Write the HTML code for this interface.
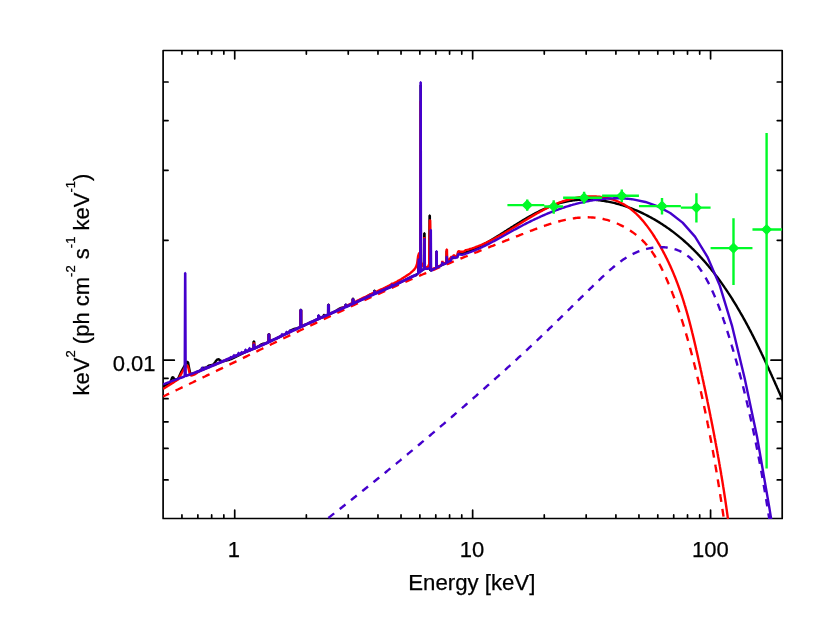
<!DOCTYPE html>
<html lang="en">
<head>
<meta charset="utf-8">
<title>Spectrum</title>
<style>
html,body{margin:0;padding:0;background:#ffffff;}
body{width:830px;height:622px;overflow:hidden;font-family:"Liberation Sans",sans-serif;}
svg{display:block;will-change:transform;}
</style>
</head>
<body>
<svg width="830" height="622" viewBox="0 0 830 622">
<rect x="0" y="0" width="830" height="622" fill="#ffffff"/>
<defs><clipPath id="pc"><rect x="163.1" y="50.5" width="619.10" height="468.50"/></clipPath></defs>
<path d="M163.1,50.5 H782.2 V518.5 H163.1 Z M181.94,518.5 v-3.6 M181.94,50.5 v3.6 M197.87,518.5 v-3.6 M197.87,50.5 v3.6 M211.67,518.5 v-3.6 M211.67,50.5 v3.6 M223.84,518.5 v-3.6 M223.84,50.5 v3.6 M234.72,518.5 v-8.3 M234.72,50.5 v8.3 M306.35,518.5 v-3.6 M306.35,50.5 v3.6 M348.24,518.5 v-3.6 M348.24,50.5 v3.6 M377.97,518.5 v-3.6 M377.97,50.5 v3.6 M401.03,518.5 v-3.6 M401.03,50.5 v3.6 M419.87,518.5 v-3.6 M419.87,50.5 v3.6 M435.79,518.5 v-3.6 M435.79,50.5 v3.6 M449.59,518.5 v-3.6 M449.59,50.5 v3.6 M461.76,518.5 v-3.6 M461.76,50.5 v3.6 M472.65,518.5 v-8.3 M472.65,50.5 v8.3 M544.27,518.5 v-3.6 M544.27,50.5 v3.6 M586.17,518.5 v-3.6 M586.17,50.5 v3.6 M615.90,518.5 v-3.6 M615.90,50.5 v3.6 M638.95,518.5 v-3.6 M638.95,50.5 v3.6 M657.79,518.5 v-3.6 M657.79,50.5 v3.6 M673.72,518.5 v-3.6 M673.72,50.5 v3.6 M687.52,518.5 v-3.6 M687.52,50.5 v3.6 M699.69,518.5 v-3.6 M699.69,50.5 v3.6 M710.58,518.5 v-8.3 M710.58,50.5 v8.3 M163.1,479.94 h4.95 M782.2,479.94 h-4.95 M163.1,448.43 h4.95 M782.2,448.43 h-4.95 M163.1,421.79 h4.95 M782.2,421.79 h-4.95 M163.1,398.71 h4.95 M782.2,398.71 h-4.95 M163.1,378.36 h4.95 M782.2,378.36 h-4.95 M163.1,360.15 h11.2 M782.2,360.15 h-11.2 M163.1,240.36 h4.95 M782.2,240.36 h-4.95 M163.1,170.29 h4.95 M782.2,170.29 h-4.95 M163.1,120.57 h4.95 M782.2,120.57 h-4.95 M163.1,82.01 h4.95 M782.2,82.01 h-4.95" fill="none" stroke="#000" stroke-width="1.7" stroke-linecap="round" stroke-linejoin="round"/>
<g clip-path="url(#pc)" fill="none" stroke-linejoin="bevel" stroke-linecap="butt">
<path d="M163.10,386.79 L164.10,386.23 L165.10,385.67 L166.10,385.11 L167.10,384.55 L168.10,384.00 L169.10,383.41 L170.10,382.54 L171.10,380.51 L172.10,377.62 L173.10,377.06 L174.10,378.84 L175.10,379.75 L176.10,379.53 L177.10,379.19 L178.10,378.64 L179.10,376.40 L180.10,374.16 L181.10,371.97 L182.10,370.17 L183.10,368.36 L184.10,366.57 L185.10,364.80 L186.10,363.03 L187.10,361.45 L188.10,362.54 L189.10,367.92 L190.10,373.01 L191.10,374.43 L192.10,373.67 L193.10,373.31 L194.10,372.94 L195.10,372.58 L196.10,372.21 L197.10,371.84 L198.10,371.47 L199.10,371.05 L200.10,370.49 L201.10,369.61 L202.10,368.58 L203.10,367.90 L204.10,367.81 L205.10,367.87 L206.10,367.57 L207.10,366.88 L208.10,366.10 L209.10,365.54 L210.10,365.31 L211.10,365.25 L212.10,365.05 L213.10,364.48 L214.10,363.47 L215.10,362.11 L216.10,360.70 L217.10,359.64 L218.10,359.25 L219.10,359.52 L220.10,360.17 L221.10,360.80 L222.10,361.19 L223.10,361.28 L224.10,361.17 L225.10,360.94 L226.10,360.68 L227.10,360.39 L228.10,360.09 L229.10,359.77 L230.10,359.43 L231.10,359.06 L232.10,358.66 L233.10,358.22 L234.10,357.75 L235.10,357.25 L236.10,356.72 L237.10,356.19 L238.10,355.65 L239.10,355.11 L240.10,354.58 L241.10,354.07 L242.10,353.57 L243.10,353.09 L244.10,352.62 L245.10,352.17 L246.10,351.74 L247.10,351.31 L248.10,350.89 L249.10,350.48 L250.10,350.07 L251.10,349.66 L252.10,349.25 L253.10,348.84 L253.50,348.68 L253.55,341.57 L254.25,341.57 L254.30,348.35 L255.10,348.02 L256.10,347.59 L257.10,347.14 L258.10,346.62 L259.10,345.99 L260.10,345.27 L261.10,344.57 L262.10,344.03 L263.10,343.73 L264.10,343.56 L265.10,343.38 L266.10,343.11 L267.10,342.73 L268.10,342.30 L268.50,342.12 L268.55,334.13 L269.25,334.13 L269.30,341.75 L270.10,341.38 L271.10,340.91 L272.10,340.44 L273.10,339.97 L274.10,339.49 L275.10,339.02 L276.10,338.55 L277.10,338.07 L278.10,337.60 L279.10,337.13 L280.10,336.65 L281.10,336.17 L282.10,335.69 L283.10,335.20 L284.10,334.71 L285.10,334.19 L286.10,333.65 L287.10,333.06 L288.10,332.41 L289.10,331.72 L290.10,331.00 L291.10,330.33 L292.10,329.74 L293.10,329.29 L294.10,328.95 L295.10,328.70 L296.10,328.48 L297.10,328.22 L298.10,327.92 L299.10,327.56 L300.10,327.16 L300.40,327.03 L300.45,309.84 L301.15,309.84 L301.20,326.68 L302.10,326.28 L303.10,325.82 L304.10,325.37 L305.10,324.91 L306.10,324.45 L307.10,324.00 L308.10,323.54 L309.10,323.09 L310.10,322.64 L311.10,322.19 L312.10,321.74 L313.10,321.29 L314.10,320.84 L315.10,320.39 L316.10,319.94 L317.10,319.49 L318.10,319.05 L318.20,319.00 L318.25,315.62 L318.95,315.62 L319.00,318.65 L319.10,318.60 L320.10,318.16 L321.10,317.72 L322.10,317.28 L323.10,316.84 L323.60,316.62 L323.65,314.97 L324.35,314.97 L324.40,316.27 L325.10,315.96 L326.10,315.52 L327.10,315.08 L328.10,314.64 L328.10,314.64 L328.15,304.73 L328.85,304.73 L328.90,314.29 L329.10,314.20 L330.10,313.76 L331.10,313.32 L332.10,312.86 L333.10,312.38 L334.10,311.87 L335.10,311.31 L336.10,310.70 L337.10,310.07 L338.10,309.44 L339.10,308.86 L340.10,308.37 L341.10,307.99 L342.10,307.70 L343.10,307.46 L344.10,307.21 L345.10,306.92 L345.40,306.82 L345.45,304.59 L346.15,304.59 L346.20,306.55 L347.10,306.20 L348.10,305.79 L349.10,305.36 L350.10,304.92 L351.10,304.47 L352.10,304.02 L352.60,303.79 L352.65,298.74 L353.35,298.74 L353.40,303.43 L354.10,303.11 L355.10,302.66 L356.10,302.20 L357.10,301.75 L358.10,301.29 L359.10,300.84 L360.10,300.38 L361.10,299.91 L362.10,299.43 L363.10,298.93 L364.10,298.39 L365.10,297.79 L366.10,297.14 L367.10,296.45 L368.10,295.77 L369.10,295.16 L370.10,294.66 L371.10,294.29 L372.10,294.02 L373.10,293.82 L374.10,293.61 L374.10,293.61 L374.15,290.79 L374.85,290.79 L374.90,293.41 L375.10,293.36 L376.10,293.05 L377.10,292.69 L378.10,292.30 L379.10,291.88 L380.10,291.46 L381.10,291.03 L382.10,290.60 L383.10,290.16 L384.10,289.73 L385.10,289.30 L386.10,288.86 L387.10,288.42 L388.10,287.98 L389.10,287.54 L390.10,287.10 L391.10,286.65 L392.10,286.20 L393.10,285.75 L394.10,285.29 L395.10,284.83 L396.10,284.36 L397.10,283.89 L398.10,283.42 L399.10,282.94 L400.10,282.45 L401.10,281.97 L402.10,281.48 L403.10,280.98 L404.10,280.49 L405.10,280.00 L406.10,279.50 L407.10,279.01 L408.10,278.53 L409.10,278.05 L410.10,277.57 L411.10,277.11 L412.10,276.65 L413.10,276.21 L414.10,275.78 L415.10,275.36 L416.10,274.96 L416.50,274.80 L418.20,273.00 L418.70,258.00 L419.20,272.00 L420.40,272.00 L420.65,84.90 L420.90,271.00 L424.00,269.00 L424.25,233.20 L424.55,233.20 L424.80,268.00 L427.60,268.60 L429.30,267.00 L429.55,215.40 L429.85,215.40 L430.20,270.60 L436.20,268.00 L436.50,250.90 L436.80,267.20 L440.00,266.00 L446.40,263.00 L446.70,250.90 L447.00,262.00 L449.60,260.40 L451.60,257.70 L452.60,258.60 L454.00,255.90 L455.50,257.00 L457.30,257.10 L458.20,252.20 L460.00,252.70 L462.00,253.00 L464.10,252.60 L466.25,252.24 L467.26,251.88 L468.26,251.50 L469.27,251.11 L470.28,250.71 L471.29,250.29 L472.30,249.86 L473.31,249.42 L474.32,248.96 L475.33,248.50 L476.35,248.02 L477.36,247.53 L478.38,247.03 L479.40,246.52 L480.41,246.00 L481.43,245.47 L482.45,244.93 L483.47,244.39 L484.50,243.83 L485.52,243.26 L486.54,242.69 L487.57,242.11 L488.60,241.52 L489.62,240.92 L490.65,240.32 L491.68,239.71 L492.71,239.10 L493.75,238.48 L494.78,237.85 L495.81,237.22 L496.85,236.58 L497.89,235.94 L498.93,235.30 L499.97,234.65 L501.01,234.00 L502.05,233.35 L503.09,232.69 L504.14,232.03 L505.18,231.37 L506.23,230.71 L507.28,230.04 L508.33,229.38 L509.38,228.71 L510.44,228.05 L511.49,227.38 L512.55,226.71 L513.61,226.05 L514.67,225.38 L515.73,224.72 L516.79,224.06 L517.85,223.40 L518.92,222.75 L519.99,222.09 L521.05,221.44 L522.13,220.79 L523.20,220.15 L524.27,219.51 L525.35,218.88 L526.42,218.24 L527.50,217.62 L528.58,217.00 L529.66,216.39 L530.75,215.78 L531.83,215.18 L532.92,214.58 L534.01,213.99 L535.10,213.41 L536.19,212.84 L537.28,212.28 L538.38,211.72 L539.47,211.17 L540.57,210.64 L541.68,210.11 L542.78,209.59 L543.88,209.08 L544.99,208.58 L546.10,208.10 L547.21,207.62 L548.32,207.16 L549.44,206.70 L550.55,206.26 L551.67,205.83 L552.79,205.42 L553.91,205.02 L555.04,204.63 L556.16,204.26 L557.29,203.90 L558.42,203.55 L559.56,203.22 L560.69,202.90 L561.83,202.60 L562.96,202.32 L564.11,202.04 L565.25,201.79 L566.39,201.54 L567.54,201.32 L568.68,201.10 L569.83,200.90 L570.98,200.72 L572.13,200.54 L573.28,200.39 L574.44,200.24 L575.59,200.11 L576.75,200.00 L577.90,199.89 L579.06,199.80 L580.22,199.73 L581.38,199.66 L582.53,199.62 L583.69,199.58 L584.85,199.55 L586.01,199.54 L587.18,199.55 L588.34,199.56 L589.50,199.59 L590.66,199.63 L591.82,199.68 L592.98,199.75 L594.14,199.82 L595.31,199.91 L596.47,200.01 L597.63,200.13 L598.79,200.25 L599.95,200.39 L601.11,200.54 L602.27,200.70 L603.42,200.87 L604.58,201.05 L605.74,201.25 L606.89,201.45 L608.05,201.67 L609.20,201.90 L610.35,202.14 L611.50,202.39 L612.65,202.65 L613.80,202.92 L614.95,203.20 L616.10,203.50 L617.24,203.80 L618.38,204.11 L619.52,204.44 L620.66,204.77 L621.80,205.12 L622.93,205.47 L624.07,205.83 L625.20,206.21 L626.33,206.59 L627.45,206.98 L628.58,207.39 L629.70,207.80 L630.82,208.22 L631.94,208.65 L633.05,209.09 L634.16,209.54 L635.27,210.00 L636.38,210.46 L637.48,210.94 L638.58,211.42 L639.68,211.91 L640.78,212.41 L641.87,212.92 L642.95,213.44 L644.04,213.97 L645.12,214.50 L646.20,215.04 L647.27,215.59 L648.34,216.15 L649.41,216.72 L650.47,217.29 L651.53,217.87 L652.59,218.46 L653.64,219.06 L654.69,219.66 L655.73,220.27 L656.77,220.89 L657.80,221.51 L658.83,222.14 L659.86,222.78 L660.88,223.43 L661.90,224.08 L662.91,224.74 L663.92,225.40 L664.92,226.07 L665.92,226.75 L666.91,227.44 L667.90,228.13 L668.88,228.82 L669.86,229.52 L670.83,230.23 L671.80,230.95 L672.76,231.66 L673.72,232.39 L674.67,233.12 L675.62,233.86 L676.56,234.60 L677.50,235.35 L678.43,236.10 L679.35,236.86 L680.28,237.62 L681.19,238.39 L682.10,239.16 L683.01,239.94 L683.91,240.73 L684.81,241.52 L685.70,242.31 L686.59,243.11 L687.47,243.92 L688.35,244.73 L689.22,245.54 L690.09,246.36 L690.95,247.19 L691.81,248.02 L692.67,248.85 L693.52,249.69 L694.36,250.53 L695.20,251.38 L696.04,252.23 L696.87,253.09 L697.70,253.95 L698.52,254.82 L699.34,255.69 L700.15,256.57 L700.96,257.45 L701.77,258.33 L702.57,259.22 L703.36,260.11 L704.16,261.01 L704.94,261.91 L705.73,262.81 L706.51,263.72 L707.28,264.63 L708.05,265.55 L708.82,266.47 L709.59,267.39 L710.34,268.32 L711.10,269.25 L711.85,270.19 L712.60,271.13 L713.34,272.07 L714.08,273.01 L714.82,273.96 L715.55,274.92 L716.28,275.87 L717.00,276.83 L717.72,277.80 L718.44,278.76 L719.15,279.73 L719.86,280.71 L720.57,281.68 L721.27,282.66 L721.97,283.65 L722.66,284.63 L723.35,285.62 L724.04,286.61 L724.72,287.61 L725.41,288.60 L726.08,289.60 L726.76,290.61 L727.43,291.61 L728.09,292.62 L728.76,293.63 L729.42,294.64 L730.08,295.66 L730.73,296.68 L731.38,297.70 L732.03,298.72 L732.67,299.75 L733.31,300.78 L733.95,301.81 L734.59,302.84 L735.22,303.87 L735.85,304.91 L736.47,305.95 L737.09,306.99 L737.71,308.03 L738.33,309.08 L738.94,310.13 L739.55,311.17 L740.16,312.23 L740.77,313.28 L741.37,314.33 L741.97,315.39 L742.57,316.45 L743.16,317.51 L743.75,318.57 L744.34,319.63 L744.93,320.69 L745.51,321.76 L746.09,322.82 L746.67,323.89 L747.25,324.96 L747.82,326.03 L748.39,327.10 L748.96,328.18 L749.52,329.25 L750.09,330.33 L750.65,331.40 L751.21,332.48 L751.76,333.56 L752.32,334.64 L752.87,335.72 L753.42,336.80 L753.96,337.88 L754.51,338.96 L755.05,340.05 L755.59,341.13 L756.13,342.21 L756.67,343.30 L757.20,344.38 L757.73,345.47 L758.26,346.56 L758.79,347.64 L759.32,348.73 L759.84,349.82 L760.37,350.90 L760.89,351.99 L761.41,353.08 L761.92,354.17 L762.44,355.26 L762.95,356.34 L763.46,357.43 L763.97,358.52 L764.48,359.61 L764.99,360.69 L765.49,361.78 L766.00,362.87 L766.50,363.96 L767.00,365.04 L767.50,366.13 L767.99,367.22 L768.49,368.30 L768.98,369.39 L769.47,370.47 L769.97,371.55 L770.46,372.64 L770.94,373.72 L771.43,374.80 L771.92,375.88 L772.40,376.96 L772.89,378.04 L773.37,379.12 L773.85,380.20 L774.33,381.27 L774.81,382.35 L775.28,383.42 L775.76,384.50 L776.24,385.57 L776.71,386.64 L777.18,387.71 L777.66,388.78 L778.13,389.84 L778.60,390.91 L779.07,391.97 L779.54,393.03 L780.00,394.10 L780.47,395.16 L780.94,396.21 L781.40,397.27 L781.87,398.32 L782.33,399.38 L782.79,400.43 L783.26,401.48 L783.72,402.52 L784.18,403.57 L784.64,404.61 L785.10,405.65 L785.56,406.69 L785.99,407.67" stroke="#000000" stroke-width="2.4"/>
<path d="M163.10,388.98 L164.10,388.34 L165.10,387.71 L166.10,387.07 L167.10,386.43 L168.10,385.80 L169.10,385.16 L170.10,384.53 L171.10,383.89 L172.10,383.26 L173.10,382.62 L174.10,381.99 L175.10,381.35 L176.10,380.72 L177.10,380.09 L178.10,379.45 L179.10,378.10 L180.10,376.01 L181.10,374.09 L182.10,372.28 L183.10,370.48 L184.10,368.73 L185.10,367.44 L186.10,366.17 L187.10,365.32 L188.10,366.65 L189.10,371.01 L190.10,375.04 L191.10,375.54 L192.10,375.22 L193.10,374.99 L194.10,374.61 L195.10,374.08 L196.10,373.43 L197.10,372.75 L198.10,372.08 L199.10,371.48 L200.10,370.94 L201.10,370.43 L202.10,369.97 L203.10,369.53 L204.10,369.11 L205.10,368.70 L206.10,368.29 L207.10,367.88 L208.10,367.46 L209.10,367.05 L210.10,366.63 L211.10,366.22 L212.10,365.80 L213.10,365.38 L214.10,364.96 L215.10,364.54 L216.10,364.12 L217.10,363.69 L218.10,363.27 L219.10,362.85 L220.10,362.42 L221.10,362.00 L222.10,361.58 L223.10,361.15 L224.10,360.73 L225.10,360.31 L226.10,359.88 L227.10,359.46 L228.10,359.04 L229.10,358.62 L230.10,358.19 L231.10,357.78 L232.10,357.36 L233.10,356.94 L234.10,356.52 L235.10,356.11 L236.10,355.69 L237.10,355.28 L238.10,354.87 L239.10,354.47 L240.10,354.06 L241.10,353.66 L242.10,353.25 L243.10,352.85 L244.10,352.45 L245.10,352.05 L246.10,351.65 L247.10,351.26 L248.10,350.86 L249.10,350.46 L250.10,350.05 L251.10,349.65 L252.10,349.25 L253.10,348.84 L253.55,348.66 L253.60,343.17 L254.20,343.17 L254.25,348.37 L255.10,348.02 L256.10,347.61 L257.10,347.19 L258.10,346.76 L259.10,346.34 L260.10,345.91 L261.10,345.47 L262.10,345.03 L263.10,344.59 L264.10,344.14 L265.10,343.68 L266.10,343.23 L267.10,342.77 L268.10,342.31 L268.55,342.10 L268.60,334.73 L269.20,334.73 L269.25,341.77 L270.10,341.38 L271.10,340.91 L272.10,340.44 L273.10,339.97 L274.10,339.49 L275.10,339.02 L276.10,338.55 L277.10,338.07 L278.10,337.60 L279.10,337.13 L280.10,336.65 L281.10,336.17 L282.10,335.69 L283.10,335.21 L284.10,334.73 L285.10,334.25 L286.10,333.77 L287.10,333.30 L288.10,332.82 L289.10,332.35 L290.10,331.88 L291.10,331.40 L292.10,330.93 L293.10,330.46 L294.10,329.99 L295.10,329.53 L296.10,329.06 L297.10,328.59 L298.10,328.13 L299.10,327.67 L300.10,327.20 L300.45,327.04 L300.50,310.44 L301.10,310.44 L301.15,326.72 L302.10,326.28 L303.10,325.82 L304.10,325.37 L305.10,324.91 L306.10,324.45 L307.10,324.00 L308.10,323.54 L309.10,323.09 L310.10,322.64 L311.10,322.19 L312.10,321.74 L313.10,321.29 L314.10,320.84 L315.10,320.39 L316.10,319.94 L317.10,319.49 L318.10,319.05 L319.10,318.60 L320.10,318.16 L321.10,317.72 L322.10,317.28 L323.10,316.84 L324.10,316.40 L325.10,315.96 L326.10,315.52 L327.10,315.08 L328.10,314.64 L328.15,314.62 L328.20,305.33 L328.80,305.33 L328.85,314.31 L329.10,314.20 L330.10,313.77 L331.10,313.33 L332.10,312.89 L333.10,312.45 L334.10,312.01 L335.10,311.57 L336.10,311.06 L337.10,310.56 L338.10,310.06 L339.10,309.55 L340.10,309.05 L341.10,308.54 L342.10,308.04 L343.10,307.53 L344.10,307.02 L345.10,306.51 L346.10,306.01 L347.10,305.54 L348.10,305.07 L349.10,304.60 L350.10,304.13 L351.10,303.66 L352.10,303.19 L352.65,302.93 L352.70,299.54 L353.30,299.54 L353.35,302.59 L354.10,302.24 L355.10,301.76 L356.10,301.29 L357.10,300.81 L358.10,300.33 L359.10,299.86 L360.10,299.38 L361.10,298.90 L362.10,298.41 L363.10,297.93 L364.10,297.45 L365.10,296.97 L366.10,296.49 L367.10,296.01 L368.10,295.53 L369.10,295.05 L370.10,294.57 L371.10,294.10 L372.10,293.62 L373.10,293.15 L374.10,292.68 L374.15,292.66 L374.20,291.59 L374.80,291.59 L374.85,292.33 L375.10,292.22 L376.10,291.75 L377.10,291.28 L378.10,290.82 L379.10,290.36 L380.10,289.90 L381.10,289.44 L382.10,288.98 L383.10,288.52 L384.10,288.05 L385.10,287.59 L386.10,287.09 L387.10,286.60 L388.10,286.10 L389.10,285.60 L390.10,285.09 L391.10,284.59 L391.45,284.41 L391.50,283.66 L392.10,283.66 L392.15,284.05 L393.10,283.56 L394.10,283.05 L395.10,282.52 L396.10,282.00 L397.10,281.47 L398.10,280.93 L399.10,280.39 L400.10,279.84 L401.10,279.21 L402.10,278.57 L403.10,277.93 L404.10,277.29 L405.10,276.65 L406.10,276.01 L407.10,275.38 L408.10,274.75 L409.10,274.12 L410.10,273.35 L411.10,272.43 L412.10,271.53 L413.10,270.64 L414.10,269.76 L415.10,268.34 L416.10,266.56 L417.10,263.65 L418.10,256.14 L419.10,253.02 L419.20,252.82 L420.00,256.90 L420.40,256.90 L420.65,100.90 L420.90,262.00 L423.00,266.00 L424.10,266.40 L424.40,236.90 L424.70,266.40 L427.50,268.00 L429.20,264.00 L429.75,220.20 L430.15,220.20 L430.90,270.00 L434.00,268.40 L436.20,267.60 L436.50,251.90 L436.80,267.00 L440.00,265.80 L441.80,264.60 L442.40,261.00 L443.00,264.00 L446.30,262.40 L446.55,249.50 L446.95,249.50 L447.20,261.40 L449.60,259.20 L451.60,256.50 L452.60,257.60 L454.00,254.90 L455.50,256.90 L457.30,255.90 L458.20,251.10 L460.00,251.50 L462.00,251.80 L464.10,251.40 L465.62,250.25 L466.73,249.96 L467.84,249.65 L468.95,249.33 L470.05,248.99 L471.15,248.65 L472.25,248.29 L473.34,247.92 L474.44,247.54 L475.53,247.15 L476.61,246.74 L477.70,246.33 L478.78,245.91 L479.86,245.47 L480.93,245.03 L482.01,244.57 L483.08,244.11 L484.15,243.63 L485.22,243.15 L486.29,242.66 L487.35,242.16 L488.42,241.65 L489.48,241.13 L490.54,240.61 L491.60,240.08 L492.65,239.54 L493.71,238.99 L494.76,238.44 L495.82,237.88 L496.87,237.31 L497.92,236.74 L498.97,236.16 L500.02,235.57 L501.07,234.98 L502.11,234.39 L503.16,233.78 L504.21,233.18 L505.25,232.57 L506.30,231.95 L507.35,231.34 L508.39,230.71 L509.44,230.09 L510.48,229.46 L511.52,228.82 L512.57,228.19 L513.61,227.55 L514.66,226.91 L515.71,226.27 L516.75,225.62 L517.80,224.98 L518.84,224.33 L519.89,223.68 L520.94,223.04 L521.99,222.39 L523.04,221.74 L524.09,221.10 L525.14,220.45 L526.19,219.81 L527.25,219.17 L528.30,218.53 L529.36,217.89 L530.41,217.26 L531.47,216.63 L532.53,216.00 L533.60,215.38 L534.66,214.76 L535.73,214.14 L536.79,213.53 L537.86,212.93 L538.93,212.33 L540.01,211.73 L541.08,211.15 L542.16,210.57 L543.24,209.99 L544.32,209.43 L545.41,208.87 L546.50,208.32 L547.59,207.77 L548.68,207.24 L549.78,206.71 L550.87,206.20 L551.98,205.69 L553.08,205.19 L554.19,204.71 L555.30,204.23 L556.41,203.77 L557.53,203.31 L558.65,202.87 L559.77,202.44 L560.90,202.02 L562.03,201.62 L563.17,201.22 L564.31,200.84 L565.45,200.48 L566.60,200.13 L567.75,199.79 L568.90,199.47 L570.06,199.16 L571.22,198.87 L572.39,198.59 L573.56,198.33 L574.73,198.09 L575.91,197.86 L577.09,197.64 L578.27,197.45 L579.45,197.27 L580.64,197.10 L581.82,196.95 L583.01,196.82 L584.20,196.71 L585.39,196.61 L586.57,196.53 L587.76,196.46 L588.95,196.42 L590.14,196.39 L591.32,196.38 L592.50,196.39 L593.69,196.41 L594.87,196.45 L596.04,196.51 L597.22,196.59 L598.39,196.69 L599.55,196.81 L600.72,196.94 L601.88,197.09 L603.03,197.27 L604.18,197.46 L605.33,197.67 L606.47,197.90 L607.60,198.15 L608.73,198.42 L609.85,198.71 L610.97,199.02 L612.08,199.35 L613.18,199.70 L614.27,200.07 L615.35,200.46 L616.43,200.87 L617.50,201.30 L618.56,201.75 L619.61,202.23 L620.65,202.72 L621.68,203.24 L622.70,203.77 L623.71,204.33 L624.71,204.91 L625.70,205.51 L626.68,206.14 L627.64,206.78 L628.60,207.45 L629.55,208.13 L630.48,208.83 L631.41,209.56 L632.32,210.30 L633.22,211.05 L634.12,211.83 L635.00,212.62 L635.87,213.43 L636.74,214.25 L637.59,215.09 L638.44,215.94 L639.27,216.80 L640.10,217.68 L640.92,218.58 L641.72,219.48 L642.52,220.40 L643.31,221.33 L644.10,222.27 L644.87,223.22 L645.63,224.18 L646.39,225.14 L647.13,226.12 L647.87,227.11 L648.60,228.10 L649.33,229.10 L650.04,230.11 L650.75,231.13 L651.45,232.15 L652.14,233.17 L652.83,234.20 L653.50,235.23 L654.17,236.27 L654.84,237.31 L655.49,238.36 L656.14,239.40 L656.78,240.45 L657.42,241.50 L658.05,242.55 L658.67,243.60 L659.28,244.66 L659.89,245.71 L660.49,246.77 L661.09,247.83 L661.68,248.89 L662.26,249.95 L662.84,251.02 L663.41,252.09 L663.97,253.15 L664.53,254.22 L665.09,255.30 L665.63,256.37 L666.17,257.44 L666.71,258.52 L667.24,259.60 L667.76,260.68 L668.28,261.76 L668.79,262.84 L669.30,263.93 L669.80,265.01 L670.30,266.10 L670.79,267.19 L671.27,268.28 L671.75,269.37 L672.23,270.46 L672.70,271.56 L673.16,272.65 L673.62,273.75 L674.08,274.85 L674.53,275.95 L674.98,277.05 L675.42,278.16 L675.85,279.26 L676.28,280.37 L676.71,281.48 L677.13,282.59 L677.55,283.70 L677.97,284.81 L678.38,285.92 L678.78,287.04 L679.18,288.15 L679.58,289.27 L679.97,290.39 L680.36,291.51 L680.75,292.63 L681.13,293.75 L681.51,294.87 L681.88,296.00 L682.25,297.12 L682.62,298.25 L682.98,299.38 L683.34,300.51 L683.70,301.64 L684.05,302.77 L684.40,303.90 L684.74,305.04 L685.09,306.17 L685.43,307.31 L685.76,308.45 L686.10,309.58 L686.43,310.72 L686.76,311.86 L687.08,313.01 L687.40,314.15 L687.72,315.29 L688.04,316.44 L688.36,317.58 L688.67,318.73 L688.98,319.88 L689.28,321.03 L689.59,322.17 L689.89,323.33 L690.19,324.48 L690.49,325.63 L690.78,326.78 L691.08,327.94 L691.37,329.09 L691.66,330.25 L691.95,331.41 L692.23,332.56 L692.52,333.72 L692.80,334.88 L693.08,336.04 L693.36,337.20 L693.64,338.37 L693.92,339.53 L694.19,340.69 L694.47,341.86 L694.74,343.02 L695.01,344.19 L695.28,345.35 L695.55,346.52 L695.82,347.69 L696.09,348.86 L696.35,350.03 L696.62,351.20 L696.89,352.37 L697.15,353.54 L697.41,354.71 L697.68,355.88 L697.94,357.06 L698.20,358.23 L698.46,359.41 L698.72,360.58 L698.99,361.76 L699.25,362.93 L699.51,364.11 L699.77,365.29 L700.03,366.47 L700.29,367.64 L700.55,368.82 L700.80,370.00 L701.06,371.18 L701.32,372.36 L701.58,373.54 L701.83,374.73 L702.09,375.91 L702.35,377.09 L702.60,378.27 L702.86,379.46 L703.11,380.64 L703.37,381.82 L703.62,383.01 L703.87,384.19 L704.13,385.38 L704.38,386.56 L704.63,387.75 L704.88,388.93 L705.13,390.12 L705.38,391.31 L705.63,392.49 L705.88,393.68 L706.13,394.87 L706.38,396.06 L706.63,397.24 L706.88,398.43 L707.12,399.62 L707.37,400.81 L707.61,402.00 L707.86,403.19 L708.10,404.38 L708.35,405.56 L708.59,406.75 L708.83,407.94 L709.08,409.13 L709.32,410.32 L709.56,411.51 L709.80,412.70 L710.04,413.89 L710.28,415.08 L710.51,416.27 L710.75,417.46 L710.99,418.65 L711.22,419.84 L711.46,421.03 L711.70,422.22 L711.93,423.41 L712.16,424.60 L712.40,425.79 L712.63,426.98 L712.86,428.17 L713.09,429.36 L713.32,430.55 L713.55,431.74 L713.78,432.93 L714.00,434.12 L714.23,435.31 L714.46,436.50 L714.68,437.69 L714.91,438.88 L715.13,440.07 L715.35,441.26 L715.57,442.45 L715.80,443.63 L716.02,444.82 L716.23,446.01 L716.45,447.20 L716.67,448.38 L716.89,449.57 L717.10,450.76 L717.32,451.94 L717.53,453.13 L717.75,454.32 L717.96,455.50 L718.17,456.69 L718.38,457.87 L718.59,459.06 L718.80,460.24 L719.01,461.42 L719.22,462.61 L719.42,463.79 L719.63,464.97 L719.83,466.16 L720.04,467.34 L720.24,468.52 L720.44,469.70 L720.64,470.88 L720.84,472.06 L721.04,473.24 L721.23,474.42 L721.43,475.60 L721.63,476.77 L721.82,477.95 L722.01,479.13 L722.21,480.30 L722.40,481.48 L722.59,482.65 L722.78,483.83 L722.97,485.00 L723.15,486.18 L723.34,487.35 L723.52,488.52 L723.71,489.69 L723.89,490.86 L724.07,492.03 L724.25,493.20 L724.43,494.37 L724.61,495.54 L724.79,496.71 L724.96,497.87 L725.14,499.04 L725.31,500.20 L725.48,501.37 L725.65,502.53 L725.82,503.69 L725.99,504.85 L726.16,506.01 L726.33,507.18 L726.49,508.33 L726.66,509.49 L726.82,510.65 L726.98,511.81 L727.14,512.96 L727.30,514.12 L727.46,515.27 L727.62,516.43 L727.77,517.58 L727.92,518.73 L728.08,519.88 L728.23,521.03 L728.38,522.18 L728.53,523.32 L728.55,523.52" stroke="#ff0000" stroke-width="2.4"/>
<path d="M163.06,396.52 L164.15,396.00 L165.24,395.48 L166.33,394.96 L167.42,394.44 L168.51,393.93 L169.60,393.41 L170.69,392.89 L171.78,392.37 L172.87,391.85 L173.95,391.33 L175.04,390.81 L176.13,390.29 L177.22,389.77 L178.31,389.25 L179.39,388.73 L180.48,388.21 L181.57,387.69 L182.65,387.17 L183.74,386.65 L184.83,386.13 L185.91,385.61 L187.00,385.09 L188.09,384.57 L189.17,384.04 L190.26,383.52 L191.34,383.00 L192.43,382.48 L193.51,381.96 L194.60,381.43 L195.68,380.91 L196.77,380.39 L197.85,379.87 L198.93,379.35 L200.02,378.82 L201.10,378.30 L202.19,377.78 L203.27,377.25 L204.35,376.73 L205.44,376.21 L206.52,375.69 L207.60,375.16 L208.69,374.64 L209.77,374.12 L210.85,373.59 L211.93,373.07 L213.02,372.55 L214.10,372.02 L215.18,371.50 L216.26,370.98 L217.34,370.45 L218.43,369.93 L219.51,369.40 L220.59,368.88 L221.67,368.36 L222.75,367.83 L223.83,367.31 L224.91,366.79 L225.99,366.26 L227.08,365.74 L228.16,365.21 L229.24,364.69 L230.32,364.17 L231.40,363.64 L232.48,363.12 L233.56,362.59 L234.64,362.07 L235.72,361.55 L236.80,361.02 L237.88,360.50 L238.96,359.98 L240.04,359.45 L241.12,358.93 L242.20,358.40 L243.28,357.88 L244.36,357.36 L245.44,356.83 L246.52,356.31 L247.60,355.79 L248.68,355.26 L249.76,354.74 L250.84,354.22 L251.92,353.69 L253.00,353.17 L254.08,352.65 L255.16,352.12 L256.23,351.60 L257.31,351.08 L258.39,350.55 L259.47,350.03 L260.55,349.51 L261.63,348.99 L262.71,348.46 L263.79,347.94 L264.87,347.42 L265.95,346.90 L267.03,346.38 L268.11,345.85 L269.18,345.33 L270.26,344.81 L271.34,344.29 L272.42,343.77 L273.50,343.25 L274.58,342.72 L275.66,342.20 L276.74,341.68 L277.82,341.16 L278.90,340.64 L279.98,340.12 L281.06,339.60 L282.14,339.08 L283.21,338.56 L284.29,338.04 L285.37,337.52 L286.45,337.00 L287.53,336.48 L288.61,335.96 L289.69,335.44 L290.77,334.92 L291.85,334.41 L292.93,333.89 L294.01,333.37 L295.09,332.85 L296.17,332.33 L297.25,331.82 L298.33,331.30 L299.41,330.78 L300.49,330.26 L301.57,329.75 L302.65,329.23 L303.73,328.71 L304.81,328.20 L305.89,327.68 L306.97,327.17 L308.05,326.65 L309.13,326.14 L310.22,325.62 L311.30,325.11 L312.38,324.59 L313.46,324.08 L314.54,323.56 L315.62,323.05 L316.70,322.54 L317.78,322.02 L318.87,321.51 L319.95,321.00 L321.03,320.48 L322.11,319.97 L323.19,319.46 L324.28,318.95 L325.36,318.44 L326.44,317.93 L327.52,317.42 L328.61,316.91 L329.69,316.40 L330.77,315.89 L331.86,315.38 L332.94,314.87 L334.02,314.36 L335.11,313.85 L336.19,313.34 L337.27,312.83 L338.36,312.33 L339.44,311.82 L340.53,311.31 L341.61,310.80 L342.70,310.30 L343.78,309.79 L344.87,309.29 L345.95,308.78 L347.04,308.28 L348.12,307.77 L349.21,307.27 L350.29,306.76 L351.38,306.26 L352.47,305.76 L353.55,305.26 L354.64,304.75 L355.72,304.25 L356.81,303.75 L357.90,303.25 L358.99,302.75 L360.07,302.25 L361.16,301.75 L362.25,301.25 L363.34,300.75 L364.43,300.25 L365.52,299.75 L366.60,299.25 L367.69,298.76 L368.78,298.26 L369.87,297.76 L370.96,297.27 L372.05,296.77 L373.14,296.27 L374.23,295.78 L375.32,295.28 L376.41,294.79 L377.50,294.30 L378.60,293.80 L379.69,293.31 L380.78,292.82 L381.87,292.33 L382.96,291.84 L384.06,291.34 L385.15,290.85 L386.24,290.36 L387.34,289.87 L388.43,289.39 L389.52,288.90 L390.62,288.41 L391.71,287.92 L392.81,287.43 L393.90,286.95 L395.00,286.46 L396.09,285.98 L397.19,285.49 L398.28,285.01 L399.38,284.52 L400.48,284.04 L401.57,283.56 L402.67,283.07 L403.77,282.59 L404.87,282.11 L405.97,281.63 L407.06,281.15 L408.16,280.67 L409.26,280.19 L410.36,279.71 L411.46,279.23 L412.56,278.75 L413.66,278.28 L414.76,277.80 L415.86,277.32 L416.96,276.85 L418.07,276.37 L419.17,275.90 L420.27,275.43 L421.37,274.95 L422.48,274.48 L423.58,274.01 L424.68,273.54 L425.79,273.07 L426.89,272.60 L428.00,272.13 L429.10,271.66 L430.21,271.19 L431.31,270.72 L432.42,270.25 L433.52,269.79 L434.63,269.32 L435.74,268.85 L436.85,268.39 L437.95,267.93 L439.06,267.46 L440.17,267.00 L441.28,266.54 L442.39,266.08 L443.50,265.61 L444.61,265.15 L445.72,264.69 L446.83,264.23 L447.94,263.78 L449.05,263.32 L450.16,262.86 L451.28,262.40 L452.39,261.95 L453.50,261.49 L454.62,261.04 L455.73,260.58 L456.84,260.13 L457.96,259.67 L459.07,259.22 L460.19,258.76 L461.30,258.31 L462.42,257.86 L463.54,257.41 L464.65,256.96 L465.77,256.51 L466.89,256.06 L468.01,255.60 L469.12,255.15 L470.24,254.71 L471.36,254.26 L472.48,253.81 L473.60,253.36 L474.72,252.91 L475.84,252.46 L476.96,252.02 L478.08,251.57 L479.20,251.12 L480.32,250.67 L481.45,250.23 L482.57,249.78 L483.69,249.34 L484.81,248.89 L485.94,248.44 L487.06,248.00 L488.19,247.55 L489.31,247.11 L490.43,246.66 L491.56,246.22 L492.69,245.78 L493.81,245.33 L494.94,244.89 L496.06,244.44 L497.19,244.00 L498.32,243.56 L499.44,243.11 L500.57,242.67 L501.70,242.23 L502.83,241.78 L503.96,241.34 L505.09,240.90 L506.22,240.45 L507.35,240.01 L508.48,239.57 L509.61,239.12 L510.74,238.68 L511.87,238.24 L513.00,237.79 L514.13,237.35 L515.26,236.91 L516.40,236.46 L517.53,236.02 L518.66,235.58 L519.79,235.13 L520.93,234.69 L522.06,234.24 L523.20,233.80 L524.33,233.36 L525.47,232.91 L526.60,232.47 L527.74,232.03 L528.87,231.59 L530.01,231.15 L531.14,230.72 L532.28,230.28 L533.42,229.85 L534.56,229.42 L535.69,229.00 L536.83,228.58 L537.97,228.16 L539.11,227.74 L540.25,227.33 L541.39,226.93 L542.53,226.52 L543.67,226.13 L544.81,225.73 L545.95,225.35 L547.09,224.97 L548.23,224.59 L549.37,224.22 L550.51,223.86 L551.65,223.50 L552.79,223.15 L553.94,222.81 L555.08,222.48 L556.22,222.15 L557.37,221.83 L558.51,221.52 L559.65,221.22 L560.80,220.93 L561.94,220.65 L563.09,220.37 L564.23,220.11 L565.38,219.85 L566.52,219.61 L567.67,219.37 L568.82,219.15 L569.96,218.94 L571.11,218.74 L572.26,218.55 L573.40,218.38 L574.55,218.21 L575.70,218.06 L576.85,217.92 L578.00,217.80 L579.14,217.69 L580.29,217.59 L581.44,217.51 L582.59,217.44 L583.74,217.38 L584.89,217.34 L586.04,217.32 L587.19,217.31 L588.34,217.32 L589.49,217.35 L590.65,217.39 L591.80,217.45 L592.95,217.52 L594.10,217.62 L595.25,217.73 L596.41,217.86 L597.56,218.01 L598.71,218.17 L599.87,218.36 L601.02,218.57 L602.18,218.79 L603.33,219.04 L604.48,219.30 L605.64,219.59 L606.79,219.89 L607.95,220.22 L609.10,220.57 L610.25,220.93 L611.40,221.32 L612.54,221.72 L613.68,222.14 L614.82,222.58 L615.96,223.04 L617.09,223.52 L618.21,224.01 L619.33,224.52 L620.44,225.05 L621.55,225.59 L622.65,226.15 L623.74,226.73 L624.83,227.33 L625.91,227.93 L626.97,228.56 L628.03,229.20 L629.08,229.86 L630.12,230.53 L631.15,231.21 L632.17,231.91 L633.17,232.62 L634.17,233.35 L635.15,234.09 L636.12,234.84 L637.07,235.61 L638.02,236.39 L638.94,237.18 L639.86,237.99 L640.75,238.80 L641.64,239.63 L642.50,240.47 L643.35,241.32 L644.19,242.18 L645.00,243.06 L645.80,243.94 L646.59,244.83 L647.36,245.74 L648.11,246.65 L648.85,247.57 L649.58,248.50 L650.29,249.44 L650.99,250.39 L651.68,251.35 L652.35,252.32 L653.02,253.29 L653.67,254.27 L654.31,255.26 L654.93,256.25 L655.55,257.26 L656.16,258.27 L656.76,259.28 L657.35,260.31 L657.92,261.33 L658.50,262.37 L659.06,263.41 L659.61,264.45 L660.16,265.50 L660.70,266.55 L661.23,267.61 L661.76,268.67 L662.28,269.74 L662.80,270.81 L663.31,271.88 L663.81,272.96 L664.31,274.04 L664.81,275.12 L665.30,276.20 L665.79,277.29 L666.28,278.38 L666.76,279.47 L667.24,280.56 L667.72,281.66 L668.19,282.76 L668.65,283.86 L669.12,284.96 L669.58,286.06 L670.03,287.17 L670.49,288.28 L670.94,289.39 L671.38,290.50 L671.83,291.62 L672.27,292.74 L672.70,293.86 L673.14,294.98 L673.57,296.10 L673.99,297.22 L674.42,298.35 L674.84,299.48 L675.25,300.61 L675.67,301.74 L676.08,302.87 L676.49,304.01 L676.89,305.14 L677.29,306.28 L677.69,307.42 L678.09,308.56 L678.48,309.70 L678.87,310.85 L679.26,311.99 L679.65,313.14 L680.03,314.28 L680.41,315.43 L680.78,316.58 L681.16,317.73 L681.53,318.89 L681.90,320.04 L682.27,321.19 L682.63,322.35 L682.99,323.51 L683.35,324.66 L683.71,325.82 L684.06,326.98 L684.41,328.14 L684.76,329.30 L685.11,330.46 L685.46,331.63 L685.80,332.79 L686.14,333.95 L686.48,335.12 L686.81,336.28 L687.15,337.45 L687.48,338.61 L687.81,339.78 L688.14,340.95 L688.47,342.11 L688.79,343.28 L689.11,344.45 L689.43,345.62 L689.75,346.79 L690.07,347.96 L690.39,349.13 L690.70,350.29 L691.01,351.46 L691.32,352.63 L691.63,353.80 L691.94,354.97 L692.24,356.14 L692.55,357.31 L692.85,358.48 L693.15,359.65 L693.45,360.82 L693.75,361.99 L694.05,363.16 L694.34,364.33 L694.64,365.50 L694.93,366.67 L695.22,367.83 L695.51,369.00 L695.80,370.17 L696.09,371.34 L696.37,372.51 L696.66,373.67 L696.94,374.84 L697.22,376.01 L697.50,377.18 L697.78,378.35 L698.06,379.51 L698.34,380.68 L698.61,381.85 L698.89,383.02 L699.16,384.18 L699.43,385.35 L699.70,386.52 L699.97,387.68 L700.24,388.85 L700.50,390.02 L700.77,391.19 L701.03,392.35 L701.30,393.52 L701.56,394.69 L701.82,395.85 L702.08,397.02 L702.34,398.19 L702.59,399.36 L702.85,400.52 L703.10,401.69 L703.36,402.86 L703.61,404.03 L703.86,405.19 L704.11,406.36 L704.36,407.53 L704.61,408.70 L704.86,409.87 L705.10,411.03 L705.35,412.20 L705.59,413.37 L705.83,414.54 L706.07,415.71 L706.31,416.87 L706.55,418.04 L706.79,419.21 L707.03,420.38 L707.27,421.55 L707.50,422.72 L707.73,423.89 L707.97,425.06 L708.20,426.23 L708.43,427.40 L708.66,428.57 L708.89,429.74 L709.12,430.91 L709.35,432.08 L709.57,433.25 L709.80,434.42 L710.02,435.59 L710.24,436.77 L710.47,437.94 L710.69,439.11 L710.91,440.28 L711.13,441.45 L711.35,442.63 L711.57,443.80 L711.78,444.97 L712.00,446.15 L712.21,447.32 L712.43,448.50 L712.64,449.67 L712.85,450.85 L713.07,452.02 L713.28,453.20 L713.49,454.37 L713.70,455.55 L713.91,456.72 L714.11,457.90 L714.32,459.08 L714.53,460.26 L714.73,461.43 L714.94,462.61 L715.14,463.79 L715.34,464.97 L715.54,466.15 L715.75,467.33 L715.95,468.51 L716.15,469.69 L716.35,470.87 L716.55,472.05 L716.74,473.23 L716.94,474.41 L717.14,475.60 L717.33,476.78 L717.53,477.96 L717.72,479.15 L717.92,480.33 L718.11,481.52 L718.30,482.70 L718.49,483.89 L718.68,485.07 L718.87,486.26 L719.06,487.45 L719.25,488.63 L719.44,489.82 L719.63,491.01 L719.82,492.20 L720.00,493.39 L720.19,494.58 L720.38,495.77 L720.56,496.96 L720.75,498.15 L720.93,499.35 L721.11,500.54 L721.30,501.73 L721.48,502.93 L721.66,504.12 L721.84,505.32 L722.02,506.51 L722.20,507.71 L722.38,508.90 L722.56,510.10 L722.74,511.30 L722.92,512.50 L723.10,513.70 L723.28,514.90 L723.45,516.10 L723.63,517.30 L723.81,518.50 L723.98,519.71 L724.16,520.91 L724.33,522.11 L724.51,523.32 L724.63,524.17" stroke="#ff0000" stroke-width="2.4" stroke-dasharray="7.8 7.15" stroke-dashoffset="1.1"/>
<path d="M163.10,384.40 L165.10,383.66 L167.10,382.91 L169.10,382.17 L171.10,381.42 L173.10,380.68 L175.10,379.93 L177.10,379.19 L179.10,378.45 L181.10,377.71 L183.10,376.97 L184.75,376.37 L185.15,273.00 L185.25,273.00 L185.65,376.04 L187.10,375.50 L189.10,374.77 L191.10,374.04 L193.10,373.31 L195.10,372.58" stroke="#4400cc" stroke-width="2.5"/>
<path d="M195.10,372.58 L197.10,371.84 L199.10,371.11 L201.10,370.33 L202.15,369.90 L202.15,367.69 L202.25,367.69 L202.25,369.86 L203.10,369.52 L205.10,368.70 L205.95,368.35 L205.95,367.19 L206.05,367.19 L206.05,368.31 L207.10,367.88 L209.10,367.05 L211.10,366.22 L213.10,365.38 L215.10,364.54 L217.10,363.69 L219.10,362.85 L221.10,362.00 L223.10,361.15 L225.10,360.31 L227.10,359.46 L229.10,358.62 L230.45,358.05 L230.45,357.22 L230.55,357.22 L230.55,358.01 L231.10,357.78 L233.10,356.94 L233.95,356.59 L233.95,355.21 L234.05,355.21 L234.05,356.54 L235.10,356.11 L237.10,355.28 L238.55,354.69 L238.55,353.00 L238.65,353.00 L238.65,354.65 L239.10,354.47 L241.10,353.66 L241.55,353.47 L241.55,352.20 L241.65,352.20 L241.65,353.43 L243.10,352.85 L245.10,352.05 L245.55,351.87 L245.55,349.79 L245.65,349.79 L245.65,351.83 L247.10,351.26 L249.10,350.46 L249.55,350.28 L249.55,348.18 L249.65,348.18 L249.65,350.24 L251.10,349.65 L253.10,348.84 L253.85,348.53 L253.85,344.47 L253.95,344.47 L253.95,348.49 L255.10,348.02 L257.10,347.19 L259.10,346.34 L261.10,345.47 L263.10,344.59 L265.10,343.68 L267.10,342.77 L268.85,341.96 L268.85,334.53 L268.95,334.53 L268.95,341.91 L269.10,341.84 L271.10,340.91 L273.10,339.97 L275.10,339.02 L277.10,338.07 L279.10,337.13 L281.10,336.17 L281.95,335.76 L281.95,334.27 L282.05,334.27 L282.05,335.71 L283.10,335.21 L285.10,334.25 L286.45,333.61 L286.45,332.02 L286.55,332.02 L286.55,333.56 L287.10,333.30 L289.10,332.35 L289.95,331.95 L289.95,330.38 L290.05,330.38 L290.05,331.90 L291.10,331.40 L293.10,330.46 L295.10,329.53 L297.10,328.59 L299.10,327.67 L300.75,326.90 L300.75,310.04 L300.85,310.04 L300.85,326.86 L301.10,326.74 L303.10,325.82 L305.10,324.91 L307.10,324.00 L309.10,323.09 L311.10,322.19 L313.10,321.29 L315.10,320.39 L317.10,319.49 L318.55,318.85 L318.55,315.62 L318.65,315.62 L318.65,318.80 L319.10,318.60 L321.10,317.72 L323.10,316.84 L325.10,315.96 L327.10,315.08 L328.45,314.49 L328.45,304.93 L328.55,304.93 L328.55,314.45 L329.10,314.20 L331.10,313.33 L333.10,312.45 L335.10,311.57 L337.10,310.69 L339.10,309.81 L341.10,308.93 L343.10,308.04 L345.10,307.15 L345.75,306.87 L345.75,304.79 L345.85,304.79 L345.85,306.82 L347.10,306.26 L349.10,305.37 L351.10,304.47 L352.95,303.63 L352.95,299.34 L353.05,299.34 L353.05,303.59 L353.10,303.56 L355.10,302.66 L357.10,301.75 L359.10,300.84 L361.10,299.93 L363.10,299.02 L365.10,298.11 L367.10,297.20 L369.10,296.30 L371.10,295.41 L373.10,294.52 L374.45,293.92 L374.45,291.59 L374.55,291.59 L374.55,293.88 L375.10,293.64 L377.10,292.76 L379.10,291.89 L381.10,291.03 L383.10,290.16 L385.10,289.30 L387.10,288.42 L389.10,287.54 L391.10,286.65 L391.95,286.27 L391.95,284.76 L392.05,284.76 L392.05,286.22 L393.10,285.75 L395.10,284.83 L397.10,283.89 L399.10,282.94 L401.10,281.97 L403.10,280.98 L405.10,280.00 L407.10,279.01 L409.10,278.05 L411.10,277.11 L413.10,276.21 L415.10,275.36 L416.50,274.80" stroke="#4400cc" stroke-width="3.0"/>
<path d="M416.50,274.80 L418.20,273.40 L418.70,258.50 L419.20,272.80 L420.30,272.00 L420.55,82.20 L420.75,82.20 L421.00,271.20 L422.60,270.00 L424.10,269.20 L424.35,239.00 L424.65,239.00 L424.90,268.60 L427.60,268.80 L430.30,268.00 L430.55,229.90 L430.85,229.90 L431.10,271.00 L433.00,269.30 L436.20,268.00 L436.40,251.20 L436.70,251.20 L436.90,267.60 L440.00,266.30 L441.80,265.00 L442.40,262.00 L443.00,264.60 L446.40,263.20 L446.60,256.80 L446.90,256.80 L447.10,262.60 L449.60,261.30 L451.00,260.40 L451.80,257.60 L453.50,256.90 L454.60,258.40 L455.90,257.40 L457.30,257.60 L458.30,253.90 L460.00,254.50 L462.00,254.80 L464.10,254.40 L465.71,253.63 L466.59,253.35 L467.48,253.06 L468.37,252.76 L469.25,252.45 L470.14,252.13 L471.02,251.81 L471.91,251.47 L472.79,251.13 L473.68,250.78 L474.56,250.43 L475.44,250.06 L476.33,249.69 L477.21,249.31 L478.09,248.93 L478.98,248.54 L479.86,248.14 L480.74,247.74 L481.62,247.33 L482.51,246.91 L483.39,246.49 L484.27,246.07 L485.15,245.64 L486.04,245.20 L486.92,244.76 L487.80,244.32 L488.68,243.87 L489.57,243.41 L490.45,242.96 L491.33,242.49 L492.21,242.03 L493.09,241.56 L493.98,241.09 L494.86,240.62 L495.74,240.14 L496.63,239.66 L497.51,239.18 L498.39,238.69 L499.28,238.21 L500.16,237.72 L501.05,237.23 L501.93,236.74 L502.82,236.24 L503.70,235.75 L504.59,235.26 L505.47,234.76 L506.36,234.27 L507.24,233.77 L508.13,233.27 L509.02,232.78 L509.91,232.28 L510.79,231.79 L511.68,231.29 L512.57,230.80 L513.46,230.31 L514.35,229.82 L515.24,229.33 L516.13,228.84 L517.03,228.35 L517.92,227.87 L518.81,227.39 L519.71,226.91 L520.60,226.43 L521.49,225.96 L522.39,225.48 L523.29,225.01 L524.18,224.55 L525.08,224.08 L525.98,223.62 L526.88,223.16 L527.78,222.71 L528.68,222.26 L529.58,221.81 L530.48,221.36 L531.39,220.91 L532.29,220.47 L533.20,220.04 L534.10,219.60 L535.01,219.17 L535.92,218.74 L536.82,218.32 L537.73,217.89 L538.64,217.48 L539.56,217.06 L540.47,216.65 L541.38,216.24 L542.30,215.83 L543.21,215.43 L544.13,215.03 L545.05,214.64 L545.97,214.25 L546.89,213.86 L547.81,213.48 L548.73,213.10 L549.65,212.72 L550.58,212.35 L551.50,211.98 L552.43,211.62 L553.36,211.26 L554.29,210.90 L555.22,210.55 L556.15,210.20 L557.09,209.85 L558.02,209.51 L558.96,209.18 L559.89,208.84 L560.83,208.52 L561.77,208.19 L562.72,207.87 L563.66,207.56 L564.60,207.25 L565.55,206.94 L566.50,206.64 L567.45,206.34 L568.40,206.05 L569.35,205.76 L570.30,205.48 L571.26,205.20 L572.22,204.93 L573.17,204.66 L574.13,204.39 L575.10,204.14 L576.06,203.88 L577.02,203.63 L577.99,203.39 L578.96,203.15 L579.93,202.91 L580.90,202.68 L581.88,202.46 L582.85,202.24 L583.83,202.02 L584.81,201.82 L585.79,201.61 L586.77,201.41 L587.76,201.22 L588.74,201.03 L589.73,200.85 L590.72,200.67 L591.71,200.50 L592.71,200.34 L593.70,200.18 L594.70,200.02 L595.70,199.88 L596.70,199.73 L597.70,199.60 L598.70,199.47 L599.71,199.34 L600.71,199.23 L601.72,199.12 L602.72,199.01 L603.73,198.91 L604.74,198.82 L605.74,198.74 L606.75,198.66 L607.76,198.59 L608.77,198.53 L609.78,198.47 L610.79,198.42 L611.80,198.38 L612.81,198.35 L613.82,198.32 L614.83,198.30 L615.83,198.29 L616.84,198.29 L617.85,198.29 L618.86,198.30 L619.86,198.32 L620.87,198.35 L621.87,198.39 L622.87,198.43 L623.87,198.49 L624.87,198.55 L625.87,198.62 L626.87,198.70 L627.87,198.78 L628.86,198.88 L629.85,198.99 L630.84,199.10 L631.83,199.23 L632.82,199.36 L633.00,199.38 L645.40,201.95 L657.80,206.36 L670.20,212.98 L682.60,222.61 L695.00,236.63 L707.40,256.80 L719.80,285.64 L732.20,326.43 L744.60,378.03 L757.00,436.51 L769.40,508.04 L772.00,524.00" stroke="#4400cc" stroke-width="2.4"/>
<path d="M320.55,524.01 L321.50,523.27 L322.45,522.53 L323.40,521.80 L324.35,521.06 L325.30,520.32 L326.25,519.58 L327.20,518.84 L328.15,518.10 L329.10,517.36 L330.05,516.62 L330.99,515.88 L331.94,515.13 L332.89,514.39 L333.84,513.65 L334.78,512.91 L335.73,512.17 L336.68,511.43 L337.62,510.68 L338.57,509.94 L339.51,509.20 L340.46,508.45 L341.40,507.71 L342.34,506.97 L343.29,506.22 L344.23,505.48 L345.17,504.73 L346.12,503.99 L347.06,503.24 L348.00,502.50 L348.94,501.75 L349.88,501.01 L350.83,500.26 L351.77,499.51 L352.71,498.77 L353.65,498.02 L354.59,497.27 L355.53,496.53 L356.46,495.78 L357.40,495.03 L358.34,494.28 L359.28,493.53 L360.22,492.79 L361.16,492.04 L362.09,491.29 L363.03,490.54 L363.97,489.79 L364.90,489.04 L365.84,488.29 L366.77,487.54 L367.71,486.78 L368.64,486.03 L369.58,485.28 L370.51,484.53 L371.45,483.78 L372.38,483.02 L373.31,482.27 L374.25,481.52 L375.18,480.77 L376.11,480.01 L377.04,479.26 L377.98,478.50 L378.91,477.75 L379.84,476.99 L380.77,476.24 L381.70,475.48 L382.63,474.73 L383.56,473.97 L384.49,473.21 L385.42,472.46 L386.35,471.70 L387.28,470.94 L388.21,470.19 L389.13,469.43 L390.06,468.67 L390.99,467.91 L391.92,467.15 L392.84,466.39 L393.77,465.63 L394.70,464.87 L395.62,464.11 L396.55,463.35 L397.47,462.59 L398.40,461.83 L399.33,461.07 L400.25,460.31 L401.17,459.54 L402.10,458.78 L403.02,458.02 L403.95,457.25 L404.87,456.49 L405.79,455.73 L406.71,454.96 L407.64,454.20 L408.56,453.43 L409.48,452.67 L410.40,451.90 L411.32,451.14 L412.25,450.37 L413.17,449.60 L414.09,448.84 L415.01,448.07 L415.93,447.30 L416.85,446.53 L417.77,445.76 L418.68,444.99 L419.60,444.23 L420.52,443.46 L421.44,442.69 L422.36,441.92 L423.28,441.15 L424.19,440.37 L425.11,439.60 L426.03,438.83 L426.94,438.06 L427.86,437.29 L428.78,436.51 L429.69,435.74 L430.61,434.97 L431.52,434.19 L432.44,433.42 L433.35,432.64 L434.27,431.87 L435.18,431.09 L436.10,430.32 L437.01,429.54 L437.92,428.76 L438.84,427.99 L439.75,427.21 L440.66,426.43 L441.58,425.65 L442.49,424.87 L443.40,424.10 L444.31,423.32 L445.22,422.54 L446.14,421.76 L447.05,420.98 L447.96,420.19 L448.87,419.41 L449.78,418.63 L450.69,417.85 L451.60,417.07 L452.51,416.28 L453.42,415.50 L454.33,414.72 L455.23,413.93 L456.14,413.15 L457.05,412.36 L457.96,411.58 L458.87,410.79 L459.77,410.00 L460.68,409.22 L461.59,408.43 L462.50,407.64 L463.40,406.85 L464.31,406.07 L465.22,405.28 L466.12,404.49 L467.03,403.70 L467.93,402.91 L468.84,402.12 L469.74,401.33 L470.65,400.54 L471.55,399.74 L472.46,398.95 L473.36,398.16 L474.26,397.37 L475.17,396.57 L476.07,395.78 L476.97,394.98 L477.88,394.19 L478.78,393.39 L479.68,392.60 L480.59,391.80 L481.49,391.00 L482.39,390.21 L483.29,389.41 L484.19,388.61 L485.09,387.81 L485.99,387.02 L486.89,386.22 L487.79,385.42 L488.69,384.62 L489.59,383.82 L490.49,383.01 L491.39,382.21 L492.29,381.41 L493.19,380.61 L494.08,379.81 L494.98,379.00 L495.88,378.20 L496.77,377.40 L497.67,376.59 L498.56,375.79 L499.46,374.98 L500.35,374.18 L501.25,373.37 L502.14,372.57 L503.04,371.76 L503.93,370.95 L504.82,370.14 L505.71,369.34 L506.60,368.53 L507.49,367.72 L508.39,366.91 L509.28,366.10 L510.16,365.29 L511.05,364.48 L511.94,363.67 L512.83,362.86 L513.72,362.05 L514.60,361.24 L515.49,360.43 L516.37,359.61 L517.26,358.80 L518.14,357.99 L519.03,357.17 L519.91,356.36 L520.79,355.55 L521.67,354.73 L522.56,353.92 L523.44,353.10 L524.32,352.28 L525.20,351.47 L526.07,350.65 L526.95,349.84 L527.83,349.02 L528.71,348.20 L529.58,347.38 L530.46,346.56 L531.33,345.75 L532.20,344.93 L533.08,344.11 L533.95,343.29 L534.82,342.47 L535.69,341.65 L536.56,340.83 L537.43,340.01 L538.30,339.19 L539.17,338.36 L540.03,337.54 L540.90,336.72 L541.76,335.90 L542.63,335.07 L543.49,334.25 L544.35,333.43 L545.21,332.60 L546.08,331.78 L546.94,330.96 L547.79,330.13 L548.65,329.31 L549.51,328.48 L550.37,327.65 L551.22,326.83 L552.08,326.00 L552.93,325.17 L553.78,324.35 L554.63,323.52 L555.49,322.69 L556.34,321.86 L557.19,321.04 L558.03,320.21 L558.88,319.38 L559.73,318.55 L560.58,317.72 L561.42,316.89 L562.27,316.06 L563.12,315.23 L563.96,314.40 L564.81,313.57 L565.65,312.74 L566.50,311.90 L567.35,311.07 L568.19,310.24 L569.04,309.41 L569.88,308.57 L570.73,307.74 L571.58,306.90 L572.42,306.07 L573.27,305.24 L574.12,304.40 L574.97,303.57 L575.81,302.73 L576.66,301.89 L577.51,301.06 L578.37,300.22 L579.22,299.38 L580.07,298.54 L580.92,297.71 L581.78,296.87 L582.64,296.03 L583.49,295.19 L584.35,294.35 L585.21,293.51 L586.07,292.67 L586.93,291.83 L587.80,290.99 L588.66,290.15 L589.53,289.30 L590.40,288.46 L591.27,287.62 L592.14,286.77 L593.01,285.93 L593.89,285.09 L594.77,284.24 L595.65,283.40 L596.53,282.55 L597.41,281.71 L598.30,280.86 L599.18,280.01 L600.08,279.17 L600.97,278.32 L601.86,277.47 L602.76,276.63 L603.66,275.78 L604.57,274.94 L605.47,274.10 L606.39,273.26 L607.30,272.43 L608.22,271.60 L609.14,270.77 L610.07,269.96 L611.00,269.14 L611.94,268.34 L612.88,267.54 L613.83,266.74 L614.78,265.96 L615.74,265.19 L616.70,264.42 L617.67,263.66 L618.64,262.92 L619.63,262.18 L620.61,261.46 L621.61,260.75 L622.61,260.05 L623.62,259.37 L624.64,258.69 L625.66,258.04 L626.69,257.39 L627.73,256.77 L628.78,256.16 L629.83,255.56 L630.89,254.98 L631.97,254.42 L633.05,253.88 L634.14,253.36 L635.24,252.86 L636.35,252.37 L637.46,251.91 L638.59,251.47 L639.72,251.04 L640.86,250.64 L642.01,250.26 L643.16,249.90 L644.32,249.56 L645.48,249.24 L646.65,248.95 L647.82,248.68 L648.99,248.43 L650.16,248.20 L651.34,247.99 L652.51,247.81 L653.69,247.65 L654.87,247.52 L656.04,247.41 L657.22,247.32 L658.39,247.25 L659.56,247.22 L660.73,247.20 L661.89,247.21 L663.05,247.25 L664.20,247.31 L665.35,247.39 L666.49,247.50 L667.62,247.64 L668.75,247.81 L669.86,248.00 L670.97,248.21 L672.07,248.46 L673.16,248.73 L674.24,249.02 L675.31,249.35 L676.37,249.70 L677.41,250.08 L678.44,250.49 L679.46,250.93 L680.46,251.40 L681.45,251.89 L682.43,252.41 L683.39,252.96 L684.33,253.54 L685.27,254.14 L686.19,254.77 L687.09,255.42 L687.98,256.10 L688.86,256.80 L689.73,257.53 L690.58,258.27 L691.42,259.04 L692.25,259.83 L693.06,260.64 L693.87,261.47 L694.66,262.32 L695.44,263.19 L696.20,264.07 L696.96,264.98 L697.70,265.90 L698.44,266.83 L699.16,267.79 L699.87,268.75 L700.57,269.74 L701.26,270.73 L701.94,271.74 L702.61,272.76 L703.27,273.79 L703.92,274.84 L704.55,275.89 L705.18,276.96 L705.81,278.03 L706.42,279.12 L707.02,280.21 L707.61,281.31 L708.20,282.42 L708.77,283.53 L709.34,284.65 L709.90,285.77 L710.45,286.90 L710.99,288.03 L711.53,289.17 L712.06,290.31 L712.58,291.45 L713.09,292.59 L713.60,293.73 L714.10,294.88 L714.59,296.02 L715.08,297.16 L715.56,298.31 L716.03,299.45 L716.50,300.59 L716.96,301.74 L717.41,302.88 L717.86,304.02 L718.31,305.17 L718.75,306.31 L719.18,307.46 L719.61,308.60 L720.03,309.74 L720.45,310.89 L720.87,312.03 L721.28,313.17 L721.69,314.32 L722.09,315.46 L722.49,316.61 L722.88,317.75 L723.28,318.89 L723.66,320.04 L724.05,321.18 L724.43,322.33 L724.81,323.47 L725.19,324.62 L725.57,325.76 L725.94,326.91 L726.31,328.06 L726.68,329.20 L727.04,330.35 L727.41,331.50 L727.77,332.64 L728.13,333.79 L728.49,334.94 L728.85,336.08 L729.21,337.23 L729.56,338.38 L729.92,339.53 L730.27,340.68 L730.62,341.82 L730.97,342.97 L731.32,344.12 L731.66,345.27 L732.01,346.42 L732.35,347.57 L732.69,348.72 L733.03,349.87 L733.37,351.02 L733.71,352.17 L734.04,353.32 L734.37,354.48 L734.71,355.63 L735.04,356.78 L735.37,357.93 L735.69,359.08 L736.02,360.24 L736.35,361.39 L736.67,362.54 L736.99,363.69 L737.31,364.85 L737.63,366.00 L737.95,367.16 L738.26,368.31 L738.58,369.46 L738.89,370.62 L739.20,371.77 L739.51,372.93 L739.82,374.09 L740.13,375.24 L740.43,376.40 L740.74,377.55 L741.04,378.71 L741.35,379.87 L741.65,381.03 L741.94,382.18 L742.24,383.34 L742.54,384.50 L742.83,385.66 L743.13,386.82 L743.42,387.97 L743.71,389.13 L744.00,390.29 L744.29,391.45 L744.58,392.61 L744.86,393.77 L745.15,394.93 L745.43,396.09 L745.72,397.26 L746.00,398.42 L746.28,399.58 L746.55,400.74 L746.83,401.90 L747.11,403.06 L747.38,404.23 L747.66,405.39 L747.93,406.55 L748.20,407.72 L748.47,408.88 L748.74,410.05 L749.01,411.21 L749.27,412.38 L749.54,413.54 L749.80,414.71 L750.06,415.87 L750.33,417.04 L750.59,418.20 L750.85,419.37 L751.10,420.54 L751.36,421.70 L751.62,422.87 L751.87,424.04 L752.13,425.21 L752.38,426.38 L752.63,427.55 L752.88,428.71 L753.13,429.88 L753.38,431.05 L753.63,432.22 L753.87,433.39 L754.12,434.56 L754.36,435.73 L754.60,436.91 L754.85,438.08 L755.09,439.25 L755.33,440.42 L755.56,441.59 L755.80,442.77 L756.04,443.94 L756.28,445.11 L756.51,446.29 L756.74,447.46 L756.98,448.63 L757.21,449.81 L757.44,450.98 L757.67,452.16 L757.90,453.34 L758.13,454.51 L758.35,455.69 L758.58,456.86 L758.80,458.04 L759.03,459.22 L759.25,460.40 L759.47,461.57 L759.70,462.75 L759.92,463.93 L760.14,465.11 L760.36,466.29 L760.57,467.47 L760.79,468.65 L761.01,469.83 L761.22,471.01 L761.44,472.19 L761.65,473.37 L761.86,474.55 L762.08,475.73 L762.29,476.92 L762.50,478.10 L762.71,479.28 L762.91,480.47 L763.12,481.65 L763.33,482.83 L763.54,484.02 L763.74,485.20 L763.95,486.39 L764.15,487.57 L764.35,488.76 L764.56,489.95 L764.76,491.13 L764.96,492.32 L765.16,493.51 L765.36,494.69 L765.56,495.88 L765.76,497.07 L765.95,498.26 L766.15,499.45 L766.35,500.64 L766.54,501.83 L766.74,503.02 L766.93,504.21 L767.12,505.40 L767.32,506.59 L767.51,507.78 L767.70,508.97 L767.89,510.16 L768.08,511.36 L768.27,512.55 L768.46,513.74 L768.64,514.94 L768.83,516.13 L769.02,517.33 L769.21,518.52 L769.39,519.72 L769.58,520.91 L769.76,522.11 L769.94,523.30 L770.07,524.10" stroke="#4400cc" stroke-width="2.4" stroke-dasharray="7.4 7" stroke-dashoffset="4.5"/>
<path d="M507.42,205.1 H544.27 M527.2,199.4 V210.8 M544.27,206.5 H563.11 M553.7,200.3 V213.8 M563.11,197.8 H602.10 M584.1,191.8 V203.8 M602.10,195.8 H638.95 M621.8,189.5 V202.1 M638.95,206.1 H680.85 M662.0,198.0 V214.4 M680.85,207.6 H710.58 M696.4,193.2 V222.5 M710.58,248.1 H752.47 M733.5,218.3 V284.9 M752.47,229.5 H782.20 M766.6,133.0 V468.5" stroke="#00fa28" stroke-width="2.4"/>
<path d="M522.7,205.1 L527.2,200.6 L531.7,205.1 L527.2,209.6 Z M549.2,206.5 L553.7,202.0 L558.2,206.5 L553.7,211.0 Z M579.6,197.8 L584.1,193.3 L588.6,197.8 L584.1,202.3 Z M617.3,195.8 L621.8,191.3 L626.3,195.8 L621.8,200.3 Z M657.5,206.1 L662.0,201.6 L666.5,206.1 L662.0,210.6 Z M691.9,207.6 L696.4,203.1 L700.9,207.6 L696.4,212.1 Z M729.0,248.1 L733.5,243.6 L738.0,248.1 L733.5,252.6 Z M762.1,229.5 L766.6,225.0 L771.1,229.5 L766.6,234.0 Z" fill="#00fa28" stroke="#00fa28" stroke-width="1.5" stroke-linejoin="round"/>
</g>
<g font-family="Liberation Sans, sans-serif" font-size="22px" fill="#000" stroke="#000" stroke-width="0.25" text-anchor="middle">
<text x="233.9" y="557.3">1</text>
<text x="472.0" y="557.3">10</text>
<text x="710.4" y="557.3">100</text>
<text x="155.6" y="370.6" text-anchor="end">0.01</text>
<text x="471.8" y="590.3" font-size="22.2px">Energy [keV]</text>
<text transform="translate(88.6,395.4) rotate(-90)" x="0" y="0" text-anchor="start">keV<tspan font-size="13px" dy="-13.7">2</tspan><tspan dy="13.7"> (ph cm</tspan><tspan font-size="13px" dy="-13.7">-2</tspan><tspan dy="13.7"> s</tspan><tspan font-size="13px" dy="-13.7">-1</tspan><tspan dy="13.7"> keV</tspan><tspan font-size="13px" dy="-13.7">-1</tspan><tspan dy="13.7">)</tspan></text>
</g>
</svg>
</body>
</html>
